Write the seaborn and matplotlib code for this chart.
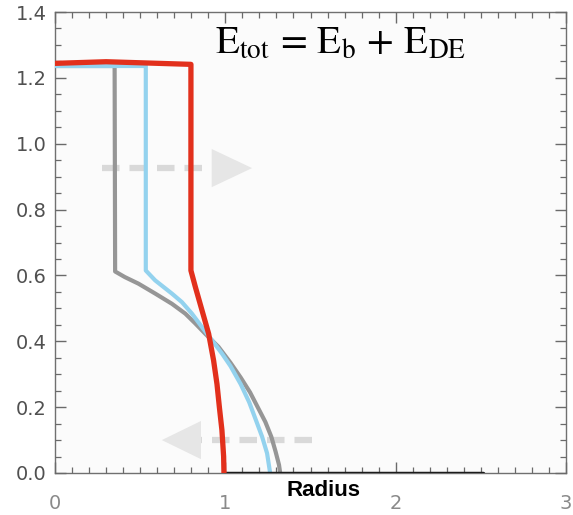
import numpy as np
import pandas as pd
import matplotlib
matplotlib.use("Agg")
import matplotlib.pyplot as plt
from matplotlib.ticker import MultipleLocator
from matplotlib.patches import Polygon
import seaborn as sns

# curve data (radius, energy)
gray_r = [0.0, 0.35, 0.353, 0.41, 0.49, 0.588, 0.686, 0.765, 0.824, 0.882, 0.96,
          1.03, 1.09, 1.145, 1.19, 1.235, 1.27, 1.295, 1.315, 1.322]
gray_e = [1.236, 1.236, 0.612, 0.595, 0.575, 0.545, 0.514, 0.484, 0.454, 0.423, 0.383,
          0.335, 0.29, 0.245, 0.2, 0.155, 0.11, 0.065, 0.025, 0.0]

blue_r = [0.0, 0.533, 0.533, 0.588, 0.686, 0.745, 0.804, 0.863, 0.922, 0.98,
          1.03, 1.09, 1.14, 1.18, 1.216, 1.245, 1.263]
blue_e = [1.236, 1.236, 0.615, 0.585, 0.545, 0.519, 0.484, 0.443, 0.403, 0.363,
          0.325, 0.27, 0.215, 0.16, 0.11, 0.06, 0.0]

red_r = [0.0, 0.3, 0.798, 0.798, 0.824, 0.863, 0.902, 0.931, 0.951, 0.965, 0.98, 0.99, 0.992]
red_e = [1.244, 1.249, 1.241, 0.615, 0.565, 0.494, 0.423, 0.342, 0.27, 0.2, 0.13, 0.05, 0.0]

black_top_r = [0.0, 0.53]
black_top_e = [1.238, 1.238]
black_bot_r = [0.99, 2.51]
black_bot_e = [0.0, 0.0]

# arrows: shaft start, head base, tip, height
arrow_right = dict(start=0.275, base=0.92, tip=1.157, y=0.926)
arrow_left = dict(start=1.51, base=0.857, tip=0.627, y=0.10)

sns.set_theme(style="ticks")
plt.rcParams["font.family"] = ["Liberation Sans", "DejaVu Sans"]
plt.rcParams["mathtext.fontset"] = "stix"
plt.rcParams.update({
    "xtick.direction": "in", "ytick.direction": "in",
    "xtick.top": True, "ytick.right": True,
    "xtick.color": "#6a6a6a", "ytick.color": "#6a6a6a",
    "axes.axisbelow": False,
})

fig = plt.figure(figsize=(5.73, 5.15), dpi=100)
ax = fig.add_axes([55 / 573, 1 - 473 / 515, 511 / 573, 461 / 515])
ax.set_facecolor("#fbfbfb")

# dashed arrows in the background
for a in (arrow_right, arrow_left):
    ax.plot([a["start"], a["base"]], [a["y"], a["y"]], color="#d9d9d9", lw=4.5,
            dashes=(2.8, 1.6), solid_capstyle="butt", zorder=1)
    head = Polygon([[a["base"], a["y"] + 0.058], [a["tip"], a["y"]], [a["base"], a["y"] - 0.058]],
                   closed=True, color="#e6e6e6", lw=0, zorder=1)
    ax.add_patch(head)

sns.lineplot(x=black_top_r, y=black_top_e, sort=False, estimator=None, color="#1c1c1c", lw=2.5, ax=ax, zorder=2)
sns.lineplot(x=gray_r, y=gray_e, sort=False, estimator=None, color="#969696", lw=3.0, ax=ax, zorder=3)
sns.lineplot(x=blue_r, y=blue_e, sort=False, estimator=None, color="#93d2ee", lw=3.0, ax=ax, zorder=4)
sns.lineplot(x=black_bot_r, y=black_bot_e, sort=False, estimator=None, color="#1c1c1c", lw=2.5, ax=ax, zorder=4)
sns.lineplot(x=red_r, y=red_e, sort=False, estimator=None, color="#e2301c", lw=3.8, ax=ax, zorder=5)

ax.set_xlim(0, 3)
ax.set_ylim(0, 1.4)
ax.xaxis.set_major_locator(MultipleLocator(1))
ax.xaxis.set_minor_locator(MultipleLocator(0.1))
ax.yaxis.set_major_locator(MultipleLocator(0.2))
ax.yaxis.set_minor_locator(MultipleLocator(0.05))
ax.set_yticks(np.arange(0, 1.41, 0.2))
ax.set_yticklabels([f"{v:.1f}" for v in np.arange(0, 1.41, 0.2)])
ax.tick_params(which="both", direction="in", top=True, right=True, bottom=True, left=True)
ax.tick_params(which="major", length=8, width=1.0)
ax.tick_params(which="minor", length=4, width=0.9)
ax.tick_params(axis="y", labelsize=14, labelcolor="#505050", pad=6)
ax.tick_params(axis="x", labelsize=14, labelcolor="#8a8a8a", pad=15)
for lbl in ax.get_xticklabels() + ax.get_yticklabels():
    lbl.set_family("DejaVu Sans")
for s in ax.spines.values():
    s.set_color("#707070")
    s.set_linewidth(1.0)

ax.set_xlabel("Radius", fontsize=16, fontweight="bold", color="black")
ax.xaxis.set_label_coords((324 - 55) / 511, -0.039)
ax.xaxis.label.set_va("center")
ax.set_ylabel("")

ax.text(0.559, 0.910, r"$\mathrm{E}_{\mathrm{tot}}\,=\,\mathrm{E}_{\mathrm{b}}\,+\,\mathrm{E}_{\mathrm{DE}}$",
        transform=ax.transAxes, fontsize=28, ha="center", va="baseline", color="black")

fig.savefig("out.png", dpi=100)
